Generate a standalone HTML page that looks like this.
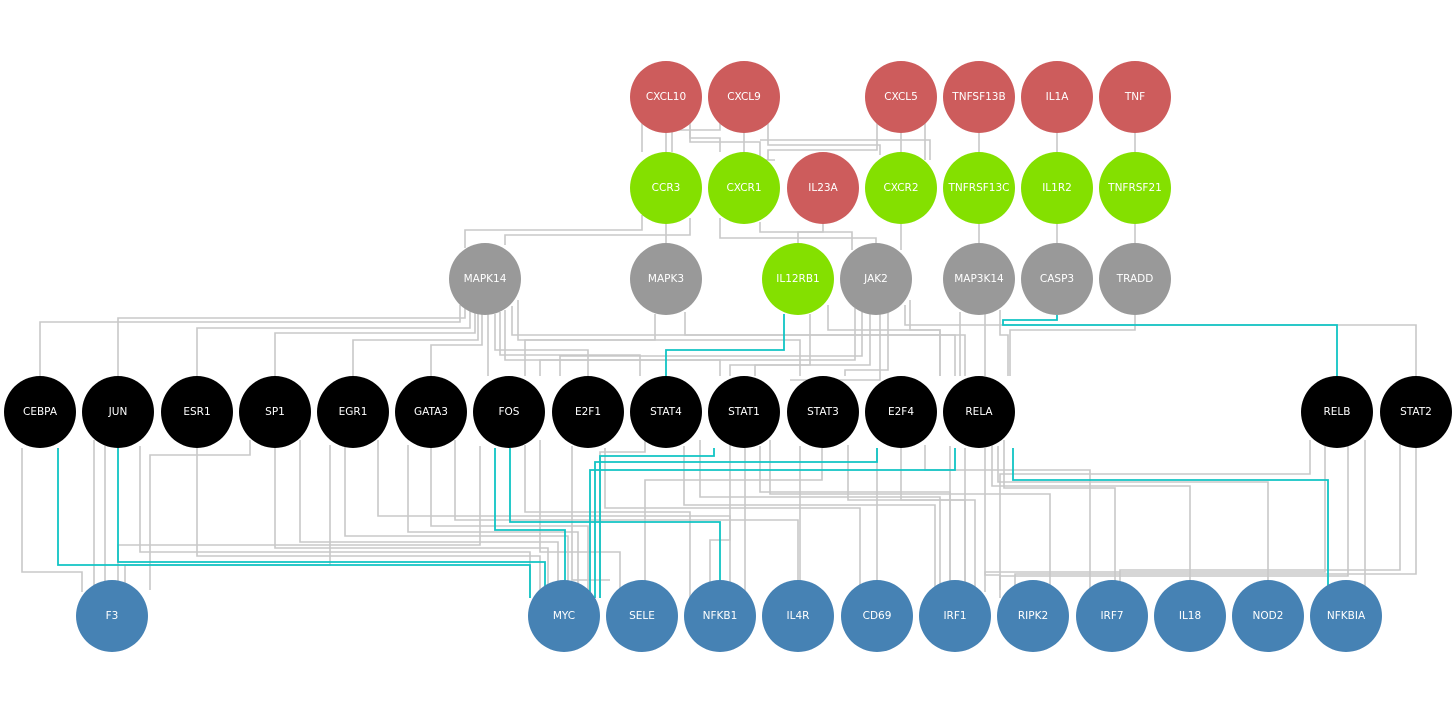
<!DOCTYPE html>
<html><head><meta charset="utf-8"><style>
html,body{margin:0;padding:0;background:#fff;}
svg{display:block;}
text{font-family:"DejaVu Sans","Liberation Sans",sans-serif;font-size:10.5px;fill:#fff;text-anchor:middle;dominant-baseline:central;}
.g{fill:none;stroke:#c8c8c8;stroke-width:1.6;}
.t{fill:none;stroke:#10c4c4;stroke-width:1.8;}
</style></head><body>
<svg width="1456" height="713" viewBox="0 0 1456 713">
<g class="g">
<!-- row1 -> row2 -->
<path d="M642 122 V152"/><path d="M666 133 V152"/><path d="M690 122 V138 H720 V152"/>
<path d="M744 133 V152"/><path d="M720 122 V130 H672 V152"/><path d="M768 122 V145 H880 V155"/>
<path d="M690 125 V142 H760 V160 H775"/><path d="M901 133 V152"/><path d="M877 122 V150 H768 V160"/>
<path d="M925 122 V160"/><path d="M979 133 V152"/><path d="M1057 133 V152"/><path d="M1135 133 V152"/>
<path d="M760 140 H930 V160"/>
<!-- row2 -> row3 -->
<path d="M642 215 V230 H465 V248"/><path d="M666 224 V243"/><path d="M690 218 V235 H505 V245"/>
<path d="M720 218 V238 H876 V243"/><path d="M760 222 V232 H852 V250"/><path d="M823 224 V232 H798 V243"/>
<path d="M901 224 V250"/><path d="M979 224 V243"/><path d="M1057 224 V243"/><path d="M1135 224 V243"/>
<!-- row3 -> row4 -->
<path d="M460 305 V322 H40 V376"/><path d="M465 308 V318 H118 V376"/><path d="M470 310 V328 H197 V376"/>
<path d="M475 312 V333 H275 V376"/><path d="M478 312 V340 H353 V376"/><path d="M482 314 V345 H431 V376"/>
<path d="M488 314 V376"/><path d="M495 314 V350 H588 V376"/><path d="M500 312 V355 H640 V376"/>
<path d="M505 310 V360 H720 V376"/><path d="M512 306 V335 H955 V376"/><path d="M518 300 V340 H800 V376"/>
<path d="M655 314 V340 H525 V376"/><path d="M685 312 V335 H965 V376"/>
<path d="M810 314 V365 H755 V376"/><path d="M828 305 V330 H940 V376"/>
<path d="M855 308 V360 H540 V376"/><path d="M862 312 V356 H560 V376"/><path d="M870 314 V365 H730 V376"/>
<path d="M880 314 V380 H790"/><path d="M888 312 V370 H845 V376"/><path d="M905 305 V325 H1416 V376"/>
<path d="M910 300 V330 H940 V376"/><path d="M960 312 V376"/><path d="M985 314 V376"/>
<path d="M1000 310 V335 H1008 V376"/><path d="M1135 315 V330 H1010 V376"/>
<!-- row4 -> row5 -->
<path d="M22 448 V572 H82 V592"/><path d="M94 440 V592"/><path d="M105 446 V592"/><path d="M140 446 V552 H530 V598"/>
<path d="M197 448 V556 H540 V598"/><path d="M250 440 V455 H150 V590"/><path d="M275 448 V548 H548 V598"/>
<path d="M300 440 V542 H558 V598"/><path d="M330 445 V565 H125 V592"/><path d="M345 446 V536 H568 V598"/>
<path d="M378 440 V516 H730 V598"/><path d="M408 445 V532 H578 V598"/><path d="M431 448 V526 H588 V598"/>
<path d="M455 440 V520 H798 V598"/><path d="M480 446 V545 H118 V590"/><path d="M525 445 V512 H690 V598"/>
<path d="M540 440 V552 H620 V598"/><path d="M572 446 V580 H610"/><path d="M605 448 V508 H860 V598"/>
<path d="M645 440 V452 H600 V598"/><path d="M684 446 V505 H935 V598"/><path d="M700 440 V497 H940 V598"/>
<path d="M730 445 V540 H710 V598"/><path d="M745 448 V590 H740"/><path d="M760 446 V492 H950 V598"/>
<path d="M770 440 V494 H1050 V598"/><path d="M800 446 V598"/><path d="M822 448 V480 H645 V598"/>
<path d="M848 445 V500 H965 V598"/><path d="M877 448 V590 H890"/><path d="M901 448 V500 H975 V598"/>
<path d="M925 445 V470 H1090 V598"/><path d="M950 446 V598"/><path d="M965 448 V598"/><path d="M985 448 V575 H1000 V598"/>
<path d="M992 446 V486 H1190 V598"/><path d="M998 446 V482 H1268 V598"/><path d="M1004 440 V488 H1115 V598"/>
<path d="M1310 440 V474 H1000 V590"/><path d="M1325 446 V572 H985 V592"/><path d="M1348 446 V576 H1000 V590"/>
<path d="M1365 440 V598"/><path d="M1400 440 V570 H1120 V598"/><path d="M1416 448 V574 H1015 V598"/>
</g>
<g class="t">
<path d="M784 314 V350 H666 V376"/>
<path d="M1057 315 V320 H1003 V325 H1337 V376"/>
<path d="M58 448 V565 H530 V598"/>
<path d="M118 448 V562 H545 V598"/>
<path d="M495 448 V530 H565 V598"/>
<path d="M510 448 V522 H720 V598"/>
<path d="M714 448 V456 H600 V598"/>
<path d="M877 448 V462 H595 V598"/>
<path d="M955 448 V470 H590 V598"/>
<path d="M1013 448 V480 H1328 V598"/>
</g>
<g>
<g fill="#cd5c5c">
<circle cx="666" cy="97" r="36"/><circle cx="744" cy="97" r="36"/><circle cx="901" cy="97" r="36"/>
<circle cx="979" cy="97" r="36"/><circle cx="1057" cy="97" r="36"/><circle cx="1135" cy="97" r="36"/>
<circle cx="823" cy="188" r="36"/>
</g>
<g fill="#84e000">
<circle cx="666" cy="188" r="36"/><circle cx="744" cy="188" r="36"/><circle cx="901" cy="188" r="36"/>
<circle cx="979" cy="188" r="36"/><circle cx="1057" cy="188" r="36"/><circle cx="1135" cy="188" r="36"/>
<circle cx="798" cy="279" r="36"/>
</g>
<g fill="#999">
<circle cx="485" cy="279" r="36"/><circle cx="666" cy="279" r="36"/><circle cx="876" cy="279" r="36"/>
<circle cx="979" cy="279" r="36"/><circle cx="1057" cy="279" r="36"/><circle cx="1135" cy="279" r="36"/>
</g>
<g fill="#000">
<circle cx="40" cy="412" r="36"/><circle cx="118" cy="412" r="36"/><circle cx="197" cy="412" r="36"/>
<circle cx="275" cy="412" r="36"/><circle cx="353" cy="412" r="36"/><circle cx="431" cy="412" r="36"/>
<circle cx="509" cy="412" r="36"/><circle cx="588" cy="412" r="36"/><circle cx="666" cy="412" r="36"/>
<circle cx="744" cy="412" r="36"/><circle cx="823" cy="412" r="36"/><circle cx="901" cy="412" r="36"/>
<circle cx="979" cy="412" r="36"/><circle cx="1337" cy="412" r="36"/><circle cx="1416" cy="412" r="36"/>
</g>
<g fill="#4682b4">
<circle cx="112" cy="616" r="36"/><circle cx="564" cy="616" r="36"/><circle cx="642" cy="616" r="36"/>
<circle cx="720" cy="616" r="36"/><circle cx="798" cy="616" r="36"/><circle cx="877" cy="616" r="36"/>
<circle cx="955" cy="616" r="36"/><circle cx="1033" cy="616" r="36"/><circle cx="1112" cy="616" r="36"/>
<circle cx="1190" cy="616" r="36"/><circle cx="1268" cy="616" r="36"/><circle cx="1346" cy="616" r="36"/>
</g>
</g>
<g>
<text x="666" y="97">CXCL10</text><text x="744" y="97">CXCL9</text><text x="901" y="97">CXCL5</text>
<text x="979" y="97">TNFSF13B</text><text x="1057" y="97">IL1A</text><text x="1135" y="97">TNF</text>
<text x="666" y="188">CCR3</text><text x="744" y="188">CXCR1</text><text x="823" y="188">IL23A</text>
<text x="901" y="188">CXCR2</text><text x="979" y="188">TNFRSF13C</text><text x="1057" y="188">IL1R2</text><text x="1135" y="188">TNFRSF21</text>
<text x="485" y="279">MAPK14</text><text x="666" y="279">MAPK3</text><text x="798" y="279">IL12RB1</text>
<text x="876" y="279">JAK2</text><text x="979" y="279">MAP3K14</text><text x="1057" y="279">CASP3</text><text x="1135" y="279">TRADD</text>
<text x="40" y="412">CEBPA</text><text x="118" y="412">JUN</text><text x="197" y="412">ESR1</text><text x="275" y="412">SP1</text>
<text x="353" y="412">EGR1</text><text x="431" y="412">GATA3</text><text x="509" y="412">FOS</text><text x="588" y="412">E2F1</text>
<text x="666" y="412">STAT4</text><text x="744" y="412">STAT1</text><text x="823" y="412">STAT3</text><text x="901" y="412">E2F4</text>
<text x="979" y="412">RELA</text><text x="1337" y="412">RELB</text><text x="1416" y="412">STAT2</text>
<text x="112" y="616">F3</text><text x="564" y="616">MYC</text><text x="642" y="616">SELE</text><text x="720" y="616">NFKB1</text>
<text x="798" y="616">IL4R</text><text x="877" y="616">CD69</text><text x="955" y="616">IRF1</text><text x="1033" y="616">RIPK2</text>
<text x="1112" y="616">IRF7</text><text x="1190" y="616">IL18</text><text x="1268" y="616">NOD2</text><text x="1346" y="616">NFKBIA</text>
</g>
</svg>
</body></html>
